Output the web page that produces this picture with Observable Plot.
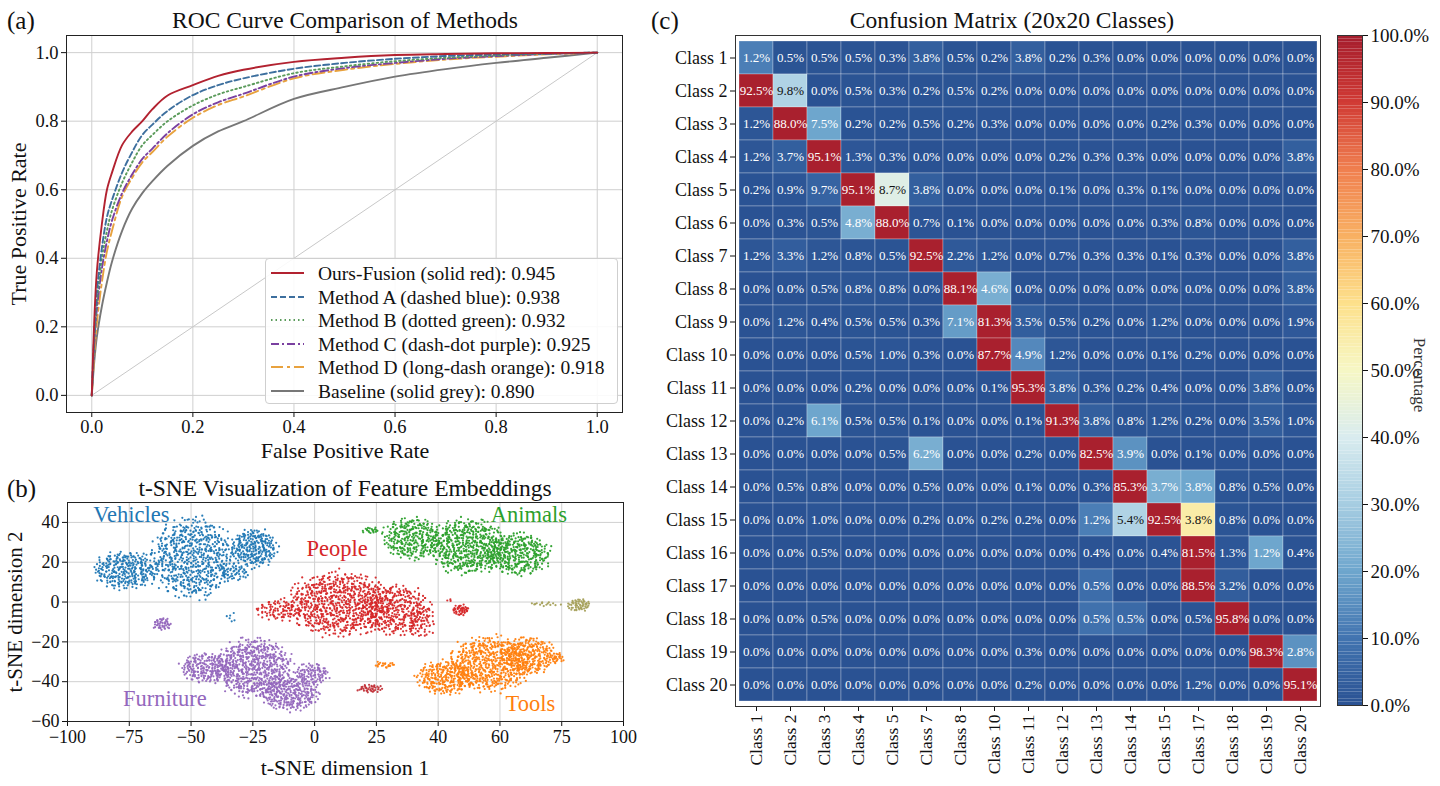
<!DOCTYPE html>
<html><head><meta charset="utf-8">
<script src="https://cdn.jsdelivr.net/npm/d3@7"></script>
<script src="https://cdn.jsdelivr.net/npm/@observablehq/plot@0.6"></script>
<style>
body{margin:0;background:#fff;font-family:"Liberation Serif","Times New Roman",serif;}
#root{position:relative;width:1440px;height:786px;overflow:hidden;background:#fff;}
.abs{position:absolute;white-space:nowrap;color:#111;line-height:1;}
.plotbox{position:absolute;}
</style></head><body><div id="root"></div>
<script>
// ---------------- (a) ROC data ----------------
const rocFpr = [0,0.005,0.01,0.02,0.03,0.04,0.06,0.08,0.1,0.12,0.15,0.2,0.25,0.3,0.4,0.5,0.6,0.7,0.8,0.9,1.0];
const rocTprOurs = [0,0.22,0.36,0.50,0.60,0.65,0.73,0.77,0.80,0.835,0.875,0.905,0.932,0.95,0.973,0.985,0.993,0.996,0.998,0.999,1];
const rocTprA    = [0,0.18,0.30,0.43,0.52,0.57,0.65,0.71,0.76,0.79,0.83,0.876,0.905,0.925,0.953,0.97,0.982,0.99,0.995,0.998,1];
const rocTprB    = [0,0.16,0.27,0.40,0.48,0.54,0.62,0.68,0.73,0.76,0.80,0.846,0.878,0.90,0.94,0.96,0.975,0.985,0.992,0.997,1];
const rocTprC    = [0,0.15,0.25,0.37,0.45,0.51,0.59,0.645,0.69,0.72,0.765,0.82,0.855,0.88,0.93,0.955,0.97,0.982,0.99,0.996,1];
const rocTprD    = [0,0.12,0.21,0.33,0.42,0.48,0.58,0.635,0.68,0.71,0.755,0.81,0.847,0.872,0.925,0.95,0.967,0.98,0.988,0.995,1];
const rocTprBase = [0,0.10,0.17,0.26,0.33,0.39,0.48,0.545,0.59,0.625,0.67,0.728,0.77,0.80,0.865,0.90,0.93,0.952,0.97,0.985,1];
const rocNames = ["Ours-Fusion (solid red)","Method A (dashed blue)","Method B (dotted green)","Method C (dash-dot purple)","Method D (long-dash orange)","Baseline (solid grey)"];
const rocAuc = [0.945,0.938,0.932,0.925,0.918,0.890];
const rocColors = ["#b22230","#3d6f9e","#5b9b5b","#7a40a0","#e8a23e","#777777"];
const rocDash = [null,"6,3","1.5,3","8,3,2,3","12,4,3,4",null];
const rocTicks = [0,0.2,0.4,0.6,0.8,1.0];
const chanceLine = [{x1:0,y1:0,x2:1,y2:1}];

// ---------------- (b) t-SNE data ----------------
// clusters: blobs [cx, cy, rx, ry, count]
const tsneClusters = [
  {name:"Vehicles", color:"#1f77b4", blobs:[[-79,16,11,9,300],[-55,22,14,19,650],[-33,27,8,9,260],[-40,15,5,4,50],[-41,-8,2.5,2.5,6]]},
  {name:"People", color:"#d62728", blobs:[[-2,-1,18,15,760],[18,-4,12,12,350],[-24,-4,8,5,90],[27,-10,5,8,60],[41.5,-4,3,2.5,45],[37,1,1,1,3]]},
  {name:"PeopleSmall", color:"#c2333a", blobs:[[9,-43.5,4.5,2,40]]},
  {name:"Animals", color:"#2ca02c", blobs:[[24,32,10,10,300],[44,28,13,13,550],[62,24,11,10,350],[9,36,3,1.5,20]]},
  {name:"Furniture", color:"#9467bd", blobs:[[-50,-33,9,7,220],[-33,-33,13,14,620],[-20,-46,10,8,300],[-12,-36,6,5,100],[-66,-11,3,3,45]]},
  {name:"Tools", color:"#ff7f0e", blobs:[[36,-38,10,8,280],[52,-31,14,13,600],[66,-27,9,9,280],[76,-28,2.5,2.5,25],[14,-31.5,4,1.5,22]]},
  {name:"Other", color:"#a5a05a", blobs:[[84,-1.5,4,3,55],[72,-1,6,1,15]]}
];
const tsneLabels = [
  {text:"Vehicles", x:-77, y:44, color:"#1f77b4"},
  {text:"People", x:-3, y:26.5, color:"#d62728"},
  {text:"Animals", x:66, y:44, color:"#2ca02c"},
  {text:"Furniture", x:-65, y:-48.5, color:"#9467bd"},
  {text:"Tools", x:66.5, y:-51, color:"#ff7f0e"}
];
const tsneXTickLabels = ["\u2212100","\u221275","\u221250","\u221225","0","25","40","60","75","100"];
const tsneYTicks = [-60,-40,-20,0,20,40];

// ---------------- (c) confusion matrix data ----------------
const cmRows = ["Class 1","Class 2","Class 3","Class 4","Class 5","Class 6","Class 7","Class 8","Class 9","Class 10","Class 11","Class 12","Class 13","Class 14","Class 15","Class 16","Class 17","Class 18","Class 19","Class 20"];
const cmCols = ["Class 1","Class 2","Class 3","Class 4","Class 5","Class 7","Class 8","Class 10","Class 11","Class 12","Class 13","Class 14","Class 15","Class 17","Class 18","Class 19","Class 20"];
const cmValues = [
 [1.2,0.5,0.5,0.5,0.3,3.8,0.5,0.2,3.8,0.2,0.3,0.0,0.0,0.0,0.0,0.0,0.0],
 [92.5,9.8,0.0,0.5,0.3,0.2,0.5,0.2,0.0,0.0,0.0,0.0,0.0,0.0,0.0,0.0,0.0],
 [1.2,88.0,7.5,0.2,0.2,0.5,0.2,0.3,0.0,0.0,0.0,0.0,0.2,0.3,0.0,0.0,0.0],
 [1.2,3.7,95.1,1.3,0.3,0.0,0.0,0.0,0.0,0.2,0.3,0.3,0.0,0.0,0.0,0.0,3.8],
 [0.2,0.9,9.7,95.1,8.7,3.8,0.0,0.0,0.0,0.1,0.0,0.3,0.1,0.0,0.0,0.0,0.0],
 [0.0,0.3,0.5,4.8,88.0,0.7,0.1,0.0,0.0,0.0,0.0,0.0,0.3,0.8,0.0,0.0,0.0],
 [1.2,3.3,1.2,0.8,0.5,92.5,2.2,1.2,0.0,0.7,0.3,0.3,0.1,0.3,0.0,0.0,3.8],
 [0.0,0.0,0.5,0.8,0.8,0.0,88.1,4.6,0.0,0.0,0.0,0.0,0.0,0.0,0.0,0.0,3.8],
 [0.0,1.2,0.4,0.5,0.5,0.3,7.1,81.3,3.5,0.5,0.2,0.0,1.2,0.0,0.0,0.0,1.9],
 [0.0,0.0,0.0,0.5,1.0,0.3,0.0,87.7,4.9,1.2,0.0,0.0,0.1,0.2,0.0,0.0,0.0],
 [0.0,0.0,0.0,0.2,0.0,0.0,0.0,0.1,95.3,3.8,0.3,0.2,0.4,0.0,0.0,3.8,0.0],
 [0.0,0.2,6.1,0.5,0.5,0.1,0.0,0.0,0.1,91.3,3.8,0.8,1.2,0.2,0.0,3.5,1.0],
 [0.0,0.0,0.0,0.0,0.5,6.2,0.0,0.0,0.2,0.0,82.5,3.9,0.0,0.1,0.0,0.0,0.0],
 [0.0,0.5,0.8,0.0,0.0,0.5,0.0,0.0,0.1,0.0,0.3,85.3,3.7,3.8,0.8,0.5,0.0],
 [0.0,0.0,1.0,0.0,0.0,0.2,0.0,0.2,0.2,0.0,1.2,5.4,92.5,3.8,0.8,0.0,0.0],
 [0.0,0.0,0.5,0.0,0.0,0.0,0.0,0.0,0.0,0.0,0.4,0.0,0.4,81.5,1.3,1.2,0.4],
 [0.0,0.0,0.0,0.0,0.0,0.0,0.0,0.0,0.0,0.0,0.5,0.0,0.0,88.5,3.2,0.0,0.0],
 [0.0,0.0,0.5,0.0,0.0,0.0,0.0,0.0,0.0,0.0,0.5,0.5,0.0,0.5,95.8,0.0,0.0],
 [0.0,0.0,0.0,0.0,0.0,0.0,0.0,0.0,0.3,0.0,0.0,0.0,0.0,0.0,0.0,98.3,2.8],
 [0.0,0.0,0.0,0.0,0.0,0.0,0.0,0.0,0.2,0.0,0.0,0.0,0.0,1.2,0.0,0.0,95.1]
];
// cells whose shading in the picture differs from the printed value: [row, col, shade%]
const cmShadeOverrides = [[1,1,12],[2,2,32],[3,3,20],[5,3,5],[5,5,42],[6,4,22],[8,8,22],[9,7,18],[10,9,14],
  [12,3,20],[13,6,22],[13,12,16],[14,13,22],[14,14,20],[15,11,12],[15,12,32],[15,14,55],[16,16,20],
  [17,11,8],[18,11,9],[18,12,7],[19,17,16]];
const cbStops = [0,10,20,30,40,50,60,70,80,90,100];
const cbColors = ["#2a5293","#4274b0","#6ea6cd","#a6cde2","#d9ecef","#f6f7c4","#fde08b","#f8b062","#f07f4f","#d03a34","#a51d2d"];
const cbTicks = [0,10,20,30,40,50,60,70,80,90,100];

// ---------------- helpers ----------------
const root = document.getElementById("root");
const FONT = "Liberation Serif, Times New Roman, serif";
function label(txt, x, y, size, opts = {}) {
  const d = document.createElement("div");
  d.className = "abs";
  d.textContent = txt;
  d.style.left = x + "px"; d.style.top = y + "px"; d.style.fontSize = size + "px";
  if (opts.color) d.style.color = opts.color;
  let t = opts.anchor === "start" ? "translate(0,-50%)" : "translate(-50%,-50%)";
  if (opts.rotate) t += ` rotate(${opts.rotate}deg)`;
  d.style.transform = t;
  root.append(d);
  return d;
}
function place(el, left, top) {
  const w = document.createElement("div");
  w.className = "plotbox"; w.style.left = left + "px"; w.style.top = top + "px";
  w.append(el); root.append(w);
}
const baseStyle = {fontFamily: FONT, fontSize: "18px", color: "#111", background: "transparent", overflow: "visible"};

// ---------------- (a) ROC ----------------
const rocSeries = [rocTprOurs, rocTprA, rocTprB, rocTprC, rocTprD, rocTprBase];
const rocMarks = [
  Plot.gridX({ticks: rocTicks, stroke: "#cfcfcf", strokeOpacity: 1}),
  Plot.gridY({ticks: rocTicks, stroke: "#cfcfcf", strokeOpacity: 1}),
  Plot.link(chanceLine, {x1: "x1", y1: "y1", x2: "x2", y2: "y2", stroke: "#c8c8c8", strokeWidth: 1})
];
for (let i = rocSeries.length - 1; i >= 0; i--) {
  const data = rocFpr.map((x, j) => ({x, y: rocSeries[i][j]}));
  const o = {x: "x", y: "y", stroke: rocColors[i], strokeWidth: 1.9, curve: "catmull-rom"};
  if (rocDash[i]) o.strokeDasharray = rocDash[i];
  rocMarks.push(Plot.line(data, o));
}
rocMarks.push(
  Plot.axisX({ticks: rocTicks, tickFormat: ".1f", label: null, fontSize: 18.5, tickSize: 5, tickPadding: 2}),
  Plot.axisY({ticks: rocTicks, tickFormat: ".1f", label: null, fontSize: 18.5, tickSize: 5, tickPadding: 3}),
  Plot.frame({stroke: "#222"})
);
place(Plot.plot({
  width: 640, height: 440, marginLeft: 66, marginRight: 18, marginTop: 5, marginBottom: 58,
  x: {domain: [-0.05, 1.05]}, y: {domain: [-0.05, 1.05]},
  style: baseStyle, marks: rocMarks
}), 0, 30);
label("(a)", 7, 20, 25, {anchor: "start"});
label("ROC Curve Comparison of Methods", 345, 21, 23.5);
label("False Positive Rate", 345, 451, 22);
label("True Positive Rate", 19, 224, 22, {rotate: -90});

// legend
const leg = document.createElement("div");
leg.style.cssText = "position:absolute;left:265px;top:258px;width:351px;height:144px;border:1px solid #cfcfcf;border-radius:4px;background:rgba(255,255,255,0.88);";
rocNames.forEach((n, i) => {
  const row = document.createElement("div");
  row.style.cssText = `position:absolute;left:0;top:${2 + i * 23.6}px;height:23px;width:100%;`;
  const dash = rocDash[i] ? `stroke-dasharray="${rocDash[i]}"` : "";
  row.innerHTML = `<svg width="40" height="23" style="position:absolute;left:5px;top:0"><line x1="0" y1="12" x2="33" y2="12" stroke="${rocColors[i]}" stroke-width="2" ${dash}/></svg>` +
    `<span style="position:absolute;left:52px;top:2px;font-size:19.5px;white-space:nowrap;color:#111">${n}: ${rocAuc[i].toFixed(3)}</span>`;
  leg.append(row);
});
root.append(leg);

// ---------------- (b) t-SNE ----------------
function halton(i, b) { let f = 1, r = 0; while (i > 0) { f /= b; r += f * (i % b); i = Math.floor(i / b); } return r; }
const tsneMarks = [];
const tsneXTicks = tsneXTickLabels.map((_, i) => -100 + i * 200 / 9);
const xLabelMap = new Map(tsneXTicks.map((t, i) => [t, tsneXTickLabels[i]]));
tsneMarks.push(
  Plot.gridX({ticks: tsneXTicks, stroke: "#d0d0d0", strokeOpacity: 1}),
  Plot.gridY({ticks: tsneYTicks, stroke: "#d0d0d0", strokeOpacity: 1})
);
let seedIdx = 1;
for (const c of tsneClusters) {
  const pts = [];
  for (const [cx, cy, rx, ry, n] of c.blobs) {
    for (let k = 0; k < n; k++, seedIdx++) {
      const u = halton(seedIdx, 2), v = halton(seedIdx, 3), w = halton(seedIdx, 5);
      const rad = Math.sqrt(u) * (0.8 + 0.4 * w);
      const a = 2 * Math.PI * v;
      pts.push({x: cx + rx * rad * Math.cos(a), y: cy + ry * rad * Math.sin(a)});
    }
  }
  tsneMarks.push(Plot.dot(pts, {x: "x", y: "y", r: 1.1, fill: c.color, fillOpacity: 0.95}));
}
tsneMarks.push(
  Plot.text(tsneLabels, {x: "x", y: "y", text: "text", fill: "color", fontSize: 22.5}),
  Plot.axisX({ticks: tsneXTicks, tickFormat: d => xLabelMap.get(d), label: null, fontSize: 18, tickSize: 5, tickPadding: 4}),
  Plot.axisY({ticks: tsneYTicks, label: null, fontSize: 18, tickSize: 5, tickPadding: 3}),
  Plot.frame({stroke: "#222"})
);
place(Plot.plot({
  width: 640, height: 291, marginLeft: 67, marginRight: 17, marginTop: 7, marginBottom: 65,
  x: {domain: [-100, 100]}, y: {domain: [-60, 50]},
  style: baseStyle, marks: tsneMarks
}), 0, 495);
label("(b)", 7, 488, 25, {anchor: "start"});
label("t-SNE Visualization of Feature Embeddings", 345, 489, 23.5);
label("t-SNE dimension 1", 345, 768, 22);
label("t-SNE dimension 2", 15, 612, 21, {rotate: -90});

// ---------------- (c) confusion matrix ----------------
const overrideMap = new Map(cmShadeOverrides.map(([r, c, s]) => [r + "-" + c, s]));
const cells = [];
cmValues.forEach((row, i) => row.forEach((v, j) => {
  const key = (i + 1) + "-" + (j + 1);
  const shade = overrideMap.has(key) ? overrideMap.get(key) : (v >= 80 ? 99 : v);
  cells.push({row: cmRows[i], col: cmCols[j], v, shade, text: v.toFixed(1) + "%"});
}));
const isLight = d => d.shade >= 28 && d.shade < 80;
const colorOpts = {type: "linear", domain: cbStops, range: cbColors};
place(Plot.plot({
  width: 700, height: 756, marginLeft: 95, marginRight: 20, marginTop: 5, marginBottom: 80,
  x: {domain: cmCols, padding: 0}, y: {domain: cmRows, padding: 0},
  color: colorOpts,
  style: baseStyle,
  marks: [
    Plot.cell(cells, {x: "col", y: "row", fill: "shade", inset: 0, stroke: "#ffffff", strokeOpacity: 0.35, strokeWidth: 0.8}),
    Plot.text(cells.filter(d => !isLight(d)), {x: "col", y: "row", text: "text", fill: "#ffffff", fontSize: 13}),
    Plot.text(cells.filter(isLight), {x: "col", y: "row", text: "text", fill: "#111", fontSize: 13}),
    Plot.axisX({anchor: "bottom", tickRotate: -90, label: null, fontSize: 17.5, tickSize: 5, tickPadding: 3}),
    Plot.axisY({label: null, fontSize: 18, tickSize: 5, tickPadding: 3}),
    Plot.frame({stroke: "#333"})
  ]
}), 640, 30);
label("(c)", 651, 20, 25, {anchor: "start"});
label("Confusion Matrix (20x20 Classes)", 1012, 21, 23.5);

// colorbar
const cbSteps = d3.range(0, 100, 0.5);
place(Plot.plot({
  width: 110, height: 700, marginLeft: 7, marginRight: 78, marginTop: 5, marginBottom: 25,
  x: {domain: [0, 1], axis: null}, y: {domain: [0, 100]},
  color: colorOpts,
  style: baseStyle,
  marks: [
    Plot.rect(cbSteps, {x1: () => 0, x2: () => 1, y1: d => d, y2: d => d + 0.5, fill: d => d + 0.25}),
    Plot.axisY({anchor: "right", ticks: cbTicks, tickFormat: d => d.toFixed(1) + "%", label: null, fontSize: 19, tickSize: 5, tickPadding: 3}),
    Plot.frame({stroke: "#333"})
  ]
}), 1330, 30);
label("Percentage", 1419, 375, 17, {rotate: 90, color: "#333"});
</script></body></html>
